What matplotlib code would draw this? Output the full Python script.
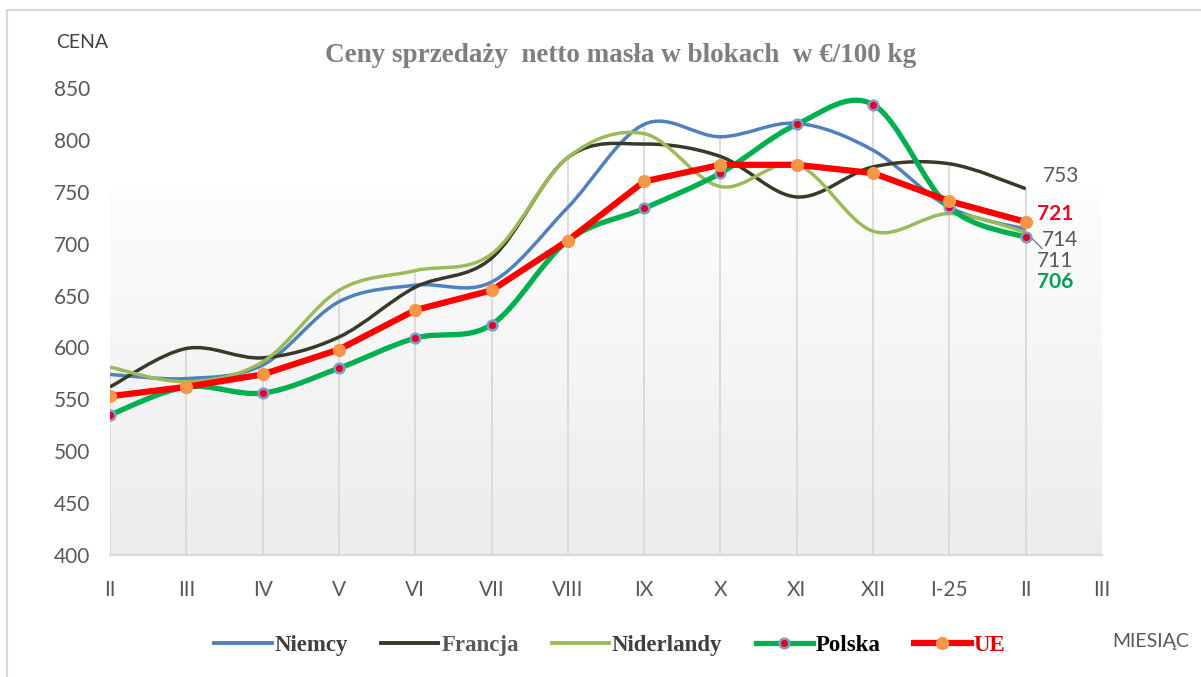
import numpy as np
import matplotlib
matplotlib.use('Agg')
import matplotlib.pyplot as plt
from matplotlib.path import Path
from matplotlib.patches import PathPatch
from matplotlib.lines import Line2D
from matplotlib.colors import LinearSegmentedColormap

# miesiące (ostatni "III" bez danych)
months = ['II', 'III', 'IV', 'V', 'VI', 'VII', 'VIII', 'IX', 'X', 'XI', 'XII', 'I-25', 'II', 'III']

niemcy = [574, 570, 583, 644, 660, 663, 735, 815, 803, 816, 790, 735, 714]
francja = [562, 599, 590, 610, 658, 686, 783, 796, 784, 745, 774, 777, 753]
niderlandy = [581, 567, 586, 655, 674, 690, 783, 806, 755, 776, 712, 729, 711]
polska = [535, 562, 556, 580, 609, 622, 703, 734, 768, 815, 834, 735, 706]
ue = [553, 562, 574, 598, 636, 655, 703, 760, 776, 776, 768, 741, 721]

C_NIEMCY = '#4f81bd'
C_FRANCJA = '#38392a'
C_NIDERL = '#9bbb59'
C_POLSKA = '#00b050'
C_UE = '#ff0000'
GRAY = '#595959'


def smooth_path(xs, ys, t=1/6):
    # krzywe Beziera jak "wygładzona linia" w Excelu
    pts = np.column_stack([xs, ys]).astype(float)
    n = len(pts)
    verts = [pts[0]]
    codes = [Path.MOVETO]
    for i in range(n - 1):
        p0 = pts[max(i - 1, 0)]
        p1 = pts[i]
        p2 = pts[i + 1]
        p3 = pts[min(i + 2, n - 1)]
        verts += [p1 + (p2 - p0) * t, p2 - (p3 - p1) * t, p2]
        codes += [Path.CURVE4] * 3
    return Path(verts, codes)


fig = plt.figure(figsize=(12.01, 6.77), dpi=100)
ax = fig.add_axes([110 / 1201, 1 - 555 / 677, (1102 - 110) / 1201, (555 - 88) / 677])

x = np.arange(len(niemcy))

# tło obszaru wykresu - gradient
grad = np.linspace(0, 1, 100).reshape(-1, 1)
cmap = LinearSegmentedColormap.from_list('bg', ['#fdfdfd', '#ececec'])
ax.imshow(grad, extent=[0, 13, 400, 751], aspect='auto', cmap=cmap, zorder=0)

# linie pionowe od maksimum do osi
tops = np.max([niemcy, francja, niderlandy, polska, ue], axis=0)
ax.vlines(x, 400, tops, color='#d9d9d9', lw=1.3, zorder=1)

for vals, col, lw in [(niemcy, C_NIEMCY, 2.5), (francja, C_FRANCJA, 2.5),
                      (niderlandy, C_NIDERL, 2.5), (polska, C_POLSKA, 3.8)]:
    ax.add_patch(PathPatch(smooth_path(x, vals), fill=False, edgecolor=col, lw=lw,
                           capstyle='butt', zorder=3))
ax.plot(x, polska, ls='none', marker='o', ms=7, mfc='#e0002a', mec='#7f9fc0', mew=1.8, zorder=4)
ax.plot(x, ue, color=C_UE, lw=4.5, marker='o', ms=8.5, mfc='#f79646', mec='#f79646', zorder=5)

ax.set_xlim(0, 13)
ax.set_ylim(400, 850)
ax.set_xticks(range(len(months)))
ax.set_xticklabels(months)
ax.set_yticks(range(400, 851, 50))
for s in ['top', 'right', 'left']:
    ax.spines[s].set_visible(False)
ax.spines['bottom'].set_color('#d9d9d9')
ax.spines['bottom'].set_linewidth(1.5)
ax.tick_params(axis='both', length=0, labelsize=15, labelcolor=GRAY)
ax.tick_params(axis='y', pad=14)
ax.tick_params(axis='x', pad=18)
for lab in ax.get_xticklabels() + ax.get_yticklabels():
    lab.set_family('Lato')

# etykiety wartości na końcu
last = len(niemcy) - 1
lab_kw = dict(textcoords='offset pixels', fontsize=15, family='Lato', va='center', ha='left')
ax.annotate(str(francja[-1]), (last, francja[-1]), xytext=(17, 13), color=GRAY, **lab_kw)
ax.annotate(str(ue[-1]), (last, ue[-1]), xytext=(11, 8), color='#e0102a', fontweight='bold', **lab_kw)
ax.annotate(str(niemcy[-1]), (last, niemcy[-1]), xytext=(16, -11), color=GRAY, **lab_kw)
ax.annotate(str(niderlandy[-1]), (last, niderlandy[-1]), xytext=(11, -29), color=GRAY,
            arrowprops=dict(arrowstyle='-', color='#909090', lw=1.2, shrinkA=0, shrinkB=0),
            **lab_kw)
ax.annotate(str(polska[-1]), (last, polska[-1]), xytext=(11, -45), color='#00a050', fontweight='bold', **lab_kw)

fig.text(621 / 1201, 1 - 55 / 677, 'Ceny sprzedaży  netto masła w blokach  w €/100 kg',
         ha='center', va='center', fontsize=19.5, fontweight='bold', family='Liberation Serif',
         color='#7f7f7f')
fig.text(56 / 1201, 1 - 43 / 677, 'CENA', ha='left', va='center', fontsize=14, family='Lato', color='#404040')
fig.text(1112 / 1201, 1 - 642 / 677, 'MIESIĄC', ha='left', va='center', fontsize=14, family='Lato', color=GRAY)

handles = [
    Line2D([], [], color=C_NIEMCY, lw=2.8),
    Line2D([], [], color=C_FRANCJA, lw=2.8),
    Line2D([], [], color=C_NIDERL, lw=2.8),
    Line2D([], [], color=C_POLSKA, lw=3.8, marker='o', ms=7, mfc='#e0002a', mec='#7f9fc0', mew=1.8),
    Line2D([], [], color=C_UE, lw=4.5, marker='o', ms=8.5, mfc='#f79646', mec='#f79646'),
]
names = ['Niemcy', 'Francja', 'Niderlandy', 'Polska', 'UE']
leg = fig.legend(handles, names, loc='center', bbox_to_anchor=(610 / 1201, 1 - 645 / 677), ncol=5,
                 frameon=False, handlelength=2.5, handletextpad=0.12, columnspacing=1.45,
                 prop={'family': 'Liberation Serif', 'weight': 'bold', 'size': 16.5})
for txt, col in zip(leg.get_texts(), ['#404040', GRAY, '#404040', 'black', '#e00000']):
    txt.set_color(col)

# ramka wykresu (góra i lewo)
fig.add_artist(Line2D([7 / 1201, 1], [1 - 10 / 677, 1 - 10 / 677], color='#d9d9d9', lw=1.5))
fig.add_artist(Line2D([7 / 1201, 7 / 1201], [0, 1 - 10 / 677], color='#d9d9d9', lw=1.5))

fig.savefig('out.png', dpi=100)
